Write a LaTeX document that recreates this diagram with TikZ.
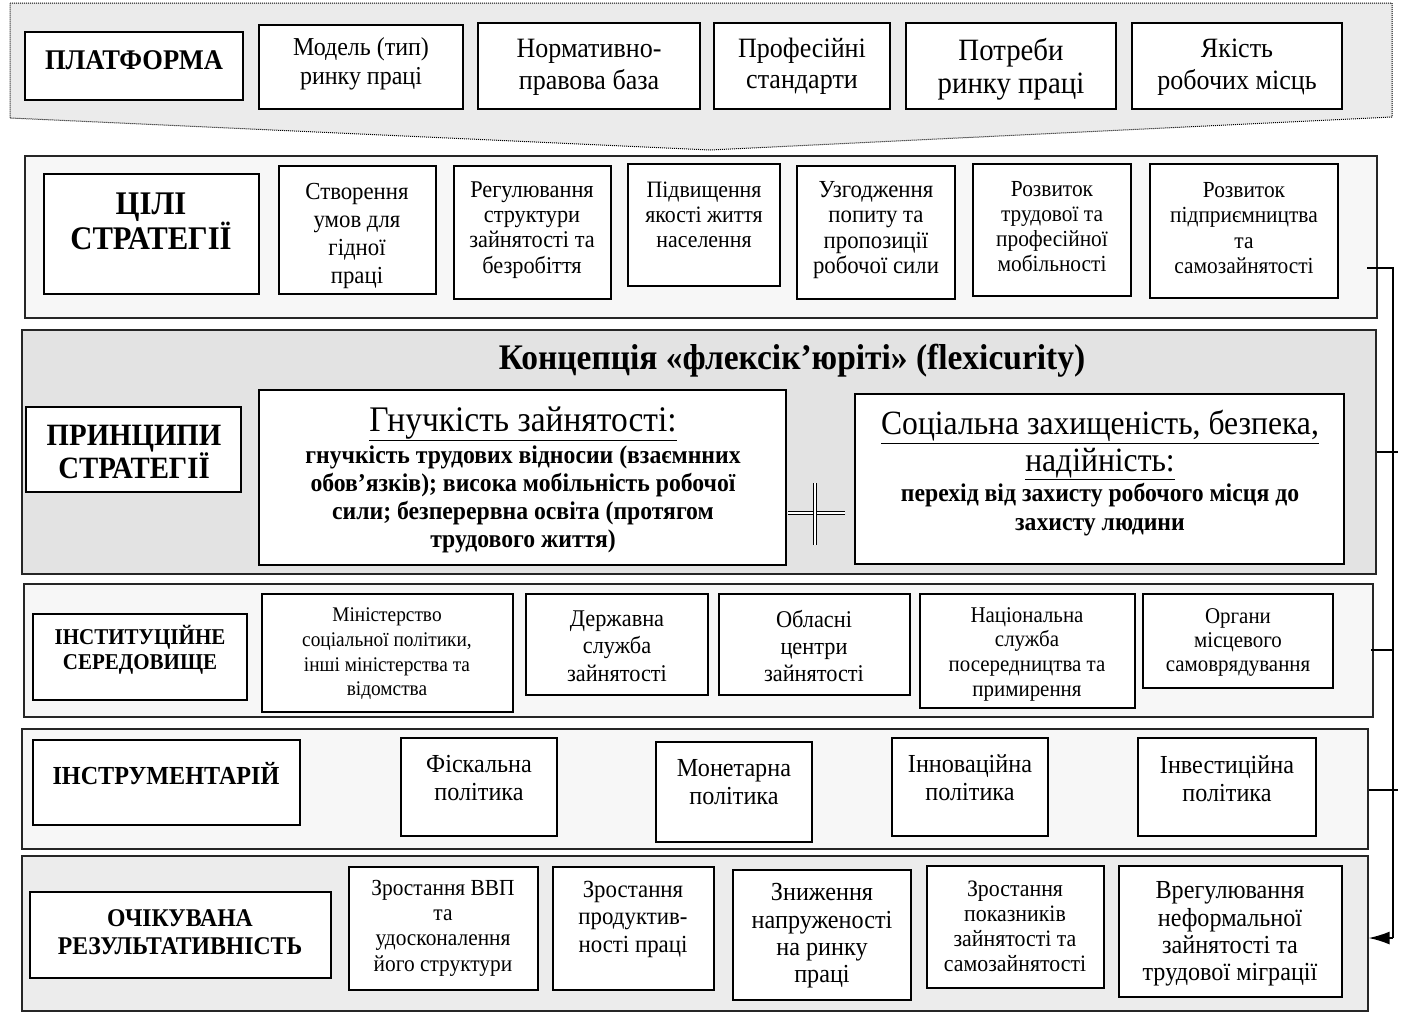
\documentclass[tikz,border=0pt]{standalone}
\usepackage{fontspec}
\setmainfont{Liberation Serif}[FakeStretch=0.93]
\usetikzlibrary{arrows.meta}
\newcommand\fsz[2]{\fontsize{#1}{#2}\selectfont}
\tikzset{
  bx/.style={draw=black, line width=1.5pt, fill=white, inner sep=0pt},
  tx/.style={align=center, inner sep=0pt, text=black},
  frame/.style={draw=black!85, line width=1.3pt, inner sep=0pt},
  conn/.style={draw=black, line width=1.5pt},
}
\newcommand\Bx[5]{\node[bx, minimum width={(#4-#2)*1pt}, minimum height={(#5-#3)*1pt}] (#1) at ({(#2+#4)/2},{(#3+#5)/2}) {};}
\newcommand\Fr[6]{\node[frame, fill=#6, minimum width={(#4-#2)*1pt}, minimum height={(#5-#3)*1pt}] (#1) at ({(#2+#4)/2},{(#3+#5)/2}) {};}
\newcommand\Tx[5]{\node[tx, font=#4] (#1) at (#2,#3) {#5};}
\begin{document}
\begin{tikzpicture}[x=1pt,y=-1pt]
\useasboundingbox (0,0) rectangle (1403,1012);
\fill[white] (0,0) rectangle (1403,1012);
% platform
\draw[fill=gray!16, line width=1pt, dash pattern=on 1pt off 1pt] (10,3) -- (1392,3) -- (1392,117) -- (710,150) -- (10,118) -- cycle;
\Bx{p0}{25}{32}{243}{100} \Tx{p0t}{134}{60}{\bfseries\fsz{28.5}{32}}{ПЛАТФОРМА}
\Bx{p1}{259}{25}{463}{109} \Tx{p1t}{361}{64}{\fsz{25.8}{29}}{Модель (тип)\\ринку праці}
\Bx{p2}{478}{23}{700}{109} \Tx{p2t}{589}{67}{\fsz{28}{32}}{Нормативно-\\правова база}
\Bx{p3}{714}{23}{890}{109} \Tx{p3t}{802}{66}{\fsz{28}{31}}{Професійні\\стандарти}
\Bx{p4}{906}{23}{1116}{109} \Tx{p4t}{1011}{69}{\fsz{31}{33}}{Потреби\\ринку праці}
\Bx{p5}{1132}{23}{1342}{109} \Tx{p5t}{1237}{67}{\fsz{28}{32}}{Якість\\робочих місць}
% goals
\Fr{f2}{25}{156}{1377}{318}{gray!6}
\Bx{g0}{44}{174}{259}{294} \Tx{g0t}{151}{221}{\bfseries\fsz{33}{35}}{ЦІЛІ\\СТРАТЕГІЇ}
\Bx{g1}{279}{166}{436}{294} \Tx{g1t}{357}{236}{\fsz{24.5}{27.7}}{Створення\\умов для\\гідної\\праці}
\Bx{g2}{454}{166}{611}{299} \Tx{g2t}{532}{230}{\fsz{24}{25.3}}{Регулювання\\структури\\зайнятості та\\безробіття}
\Bx{g3}{628}{164}{780}{286} \Tx{g3t}{704}{215}{\fsz{23.5}{25}}{Підвищення\\якості життя\\населення}
\Bx{g4}{797}{166}{955}{299} \Tx{g4t}{876}{230}{\fsz{24.5}{25.3}}{Узгодження\\попиту та\\пропозиції\\робочої сили}
\Bx{g5}{973}{164}{1131}{296} \Tx{g5t}{1052}{227}{\fsz{23}{25}}{Розвиток\\трудової та\\професійної\\мобільності}
\Bx{g6}{1150}{164}{1338}{298} \Tx{g6t}{1244}{228}{\fsz{23}{25.3}}{Розвиток\\підприємництва\\та\\самозайнятості}
% principles
\Fr{f3}{22}{330}{1376}{574}{black!11}
\Tx{ft}{792}{361}{\bfseries\fsz{36}{40}}{Концепція «флексік’юріті» (flexicurity)}
\Bx{h0}{26}{407}{241}{492} \Tx{h0t}{134}{452}{\bfseries\fsz{31}{30}}{ПРИНЦИПИ\\СТРАТЕГІЇ}
\Bx{h1}{259}{390}{786}{565}
\Tx{h1h}{523}{424}{\fsz{36}{38}}{\underline{Гнучкість зайнятості:}}
\Tx{h1b}{523}{499}{\bfseries\fsz{25.5}{28}}{гнучкість трудових відносии (взаємнних\\обов’язків); висока мобільність робочої\\сили; безперервна освіта (протягом\\трудового життя)}
\Bx{h2}{855}{394}{1344}{564}
\Tx{h2h}{1100}{445}{\fsz{34}{37}}{\underline{Соціальна захищеність, безпека,}\\\underline{надійність:}}
\Tx{h2b}{1100}{510}{\bfseries\fsz{25.5}{29}}{перехід від захисту робочого місця до\\захисту людини}
\draw[line width=0.9pt, double=white, double distance=2.4pt] (788,513) -- (845,513);
\draw[line width=0.9pt, double=white, double distance=2.4pt] (815,483) -- (815,545);
% institutions
\Fr{f4}{24}{584}{1373}{717}{gray!6}
\Bx{i0}{33}{614}{247}{700} \Tx{i0t}{140}{650}{\bfseries\fsz{22.6}{25}}{ІНСТИТУЦІЙНЕ\\СЕРЕДОВИЩЕ}
\Bx{i1}{262}{594}{513}{712} \Tx{i1t}{387}{654}{\fsz{20.8}{24.7}}{Міністерство\\соціальної політики,\\інші міністерства та\\відомства}
\Bx{i2}{526}{594}{708}{695} \Tx{i2t}{617}{646}{\fsz{24}{27.5}}{Державна\\служба\\зайнятості}
\Bx{i3}{719}{594}{910}{695} \Tx{i3t}{814}{646}{\fsz{24}{27}}{Обласні\\центри\\зайнятості}
\Bx{i4}{920}{594}{1135}{708} \Tx{i4t}{1027}{654}{\fsz{22.5}{24.7}}{Національна\\служба\\посередництва та\\примирення}
\Bx{i5}{1143}{594}{1333}{688} \Tx{i5t}{1238}{642}{\fsz{22.5}{24}}{Органи\\місцевого\\самоврядування}
% instruments
\Fr{f5}{22}{729}{1368}{849}{gray!6}
\Bx{n0}{33}{740}{300}{825} \Tx{n0t}{166}{774}{\bfseries\fsz{26}{28}}{ІНСТРУМЕНТАРІЙ}
\Bx{n1}{401}{738}{557}{836} \Tx{n1t}{479}{778}{\fsz{26}{28}}{Фіскальна\\політика}
\Bx{n2}{656}{742}{812}{842} \Tx{n2t}{734}{782}{\fsz{26}{28}}{Монетарна\\політика}
\Bx{n3}{892}{738}{1048}{836} \Tx{n3t}{970}{778}{\fsz{26}{28}}{Інноваційна\\політика}
\Bx{n4}{1138}{738}{1316}{836} \Tx{n4t}{1227}{779}{\fsz{26}{28}}{Інвестиційна\\політика}
% results
\Fr{f6}{22}{856}{1368}{1011}{gray!15}
\Bx{r0}{30}{892}{331}{978} \Tx{r0t}{180}{932}{\bfseries\fsz{25.5}{28}}{ОЧІКУВАНА\\РЕЗУЛЬТАТИВНІСТЬ}
\Bx{r1}{349}{867}{538}{990} \Tx{r1t}{443}{928}{\fsz{23}{25.3}}{Зростання ВВП\\та\\удосконалення\\його структури}
\Bx{r2}{553}{867}{714}{990} \Tx{r2t}{633}{919}{\fsz{24.6}{27.5}}{Зростання\\продуктив-\\ності праці}
\Bx{r3}{733}{870}{911}{1000} \Tx{r3t}{822}{936}{\fsz{26}{27.3}}{Зниження\\напруженості\\на ринку\\праці}
\Bx{r4}{927}{866}{1104}{988} \Tx{r4t}{1015}{926}{\fsz{23.5}{25}}{Зростання\\показників\\зайнятості та\\самозайнятості}
\Bx{r5}{1119}{866}{1342}{997} \Tx{r5t}{1230}{934}{\fsz{26}{27.3}}{Врегулювання\\неформальної\\зайнятості та\\трудової міграції}
% connector bus
\coordinate (t1) at (1367,268);
\coordinate (b1) at (1393,268);
\coordinate (b2) at (1398,452);
\coordinate (t3) at (1371,650);
\coordinate (b3) at (1393,650);
\coordinate (b4) at (1398,790);
\coordinate (b5) at (1393,938);
\draw[conn] (t1) -- (b1) -- (b5);
\draw[conn] (f3.east |- b2) -- (b2);
\draw[conn] (t3) -- (b3);
\draw[conn] (f5.east |- b4) -- (b4);
\draw[conn, -{Latex[length=21pt,width=13pt]}] (b5) -- (f6.east |- b5);
\end{tikzpicture}
\end{document}
